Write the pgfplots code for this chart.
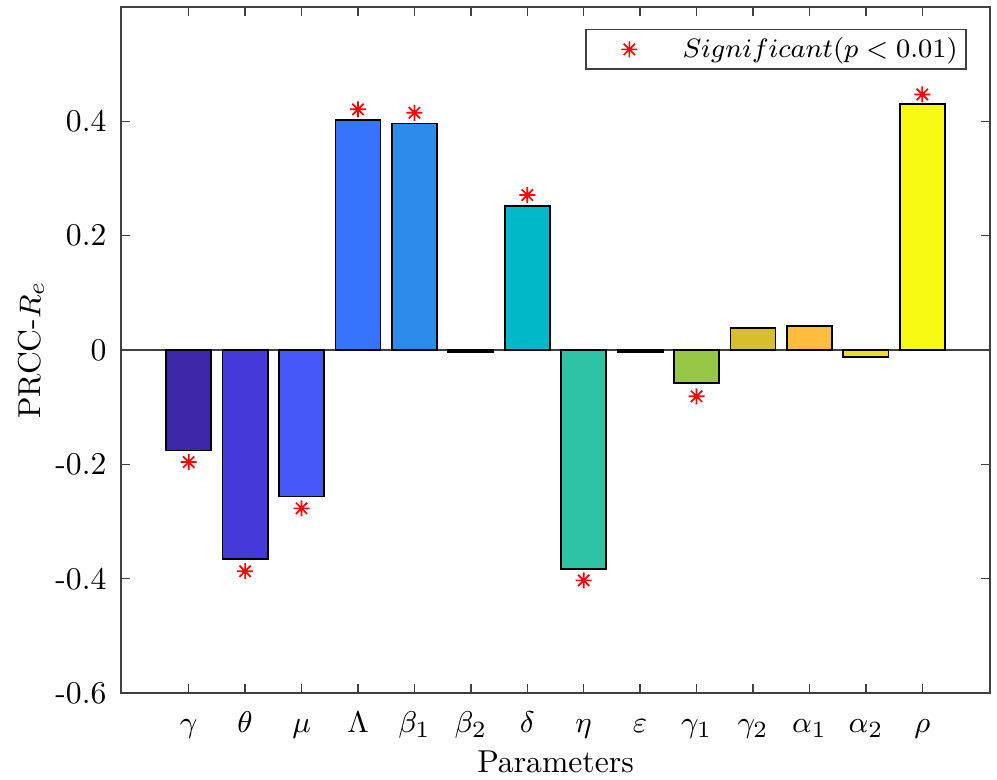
\documentclass[border=0pt]{standalone}
\usepackage{pgfplots}
\pgfplotsset{compat=1.18}
\definecolor{c1}{RGB}{62,38,168}
\definecolor{c2}{RGB}{68,58,218}
\definecolor{c3}{RGB}{70,88,245}
\definecolor{c4}{RGB}{55,115,252}
\definecolor{c5}{RGB}{45,140,235}
\definecolor{c6}{RGB}{25,165,220}
\definecolor{c7}{RGB}{0,185,200}
\definecolor{c8}{RGB}{45,195,165}
\definecolor{c9}{RGB}{100,200,110}
\definecolor{c10}{RGB}{150,200,70}
\definecolor{c11}{RGB}{215,190,45}
\definecolor{c12}{RGB}{252,190,60}
\definecolor{c13}{RGB}{240,220,40}
\definecolor{c14}{RGB}{249,250,20}
\definecolor{axc}{RGB}{64,64,64}
\pgfdeclareplotmark{mstar}{%
  \pgfpathmoveto{\pgfqpoint{0pt}{\pgfplotmarksize}}\pgfpathlineto{\pgfqpoint{0pt}{-\pgfplotmarksize}}%
  \pgfpathmoveto{\pgfqpoint{\pgfplotmarksize}{0pt}}\pgfpathlineto{\pgfqpoint{-\pgfplotmarksize}{0pt}}%
  \pgfpathmoveto{\pgfqpoint{0.707\pgfplotmarksize}{0.707\pgfplotmarksize}}\pgfpathlineto{\pgfqpoint{-0.707\pgfplotmarksize}{-0.707\pgfplotmarksize}}%
  \pgfpathmoveto{\pgfqpoint{-0.707\pgfplotmarksize}{0.707\pgfplotmarksize}}\pgfpathlineto{\pgfqpoint{0.707\pgfplotmarksize}{-0.707\pgfplotmarksize}}%
  \pgfusepathqstroke}
\pgfplotsset{mybar/.style={ybar, bar width=0.8, bar shift=0pt, draw=black, line width=0.5pt, forget plot}}
\begin{document}
\fontsize{9.5}{11.5}\selectfont
\begin{tikzpicture}
\begin{axis}[
  scale only axis,
  width=260.7pt, height=205.8pt,
  xmin=-0.2, xmax=15.2,
  ymin=-0.6, ymax=0.6,
  axis line style={axc, line width=0.45pt},
  every tick/.style={axc, line width=0.45pt},
  tick align=inside,
  major tick length=2.7pt,
  xtick={1,...,14},
  xticklabels={$\gamma$,$\theta$,$\mu$,$\Lambda$,$\beta_1$,$\beta_2$,$\delta$,$\eta$,$\varepsilon$,$\gamma_1$,$\gamma_2$,$\alpha_1$,$\alpha_2$,$\rho$},
  xticklabel style={anchor=base, yshift=-12pt},
  ytick={-0.6,-0.4,-0.2,0,0.2,0.4},
  yticklabels={-0.6,-0.4,-0.2,0,0.2,0.4},
  yticklabel style={anchor=east, xshift=-1pt},
  xlabel={Parameters},
  ylabel={PRCC-$R_e$},
  xlabel style={at={(axis description cs:0.5,-0.1006)}, anchor=center},
  ylabel style={at={(axis description cs:-0.1036,0.5)}, anchor=center, rotate=0},
  legend style={at={(axis description cs:0.9735,0.968)}, anchor=north east,
    draw=axc, line width=0.45pt, inner xsep=1pt, inner ysep=0.6pt,
    font=\fontsize{8.3}{9.8}\selectfont, nodes={inner sep=1.6pt}},
  legend cell align=left,
  legend image code/.code={\path (0pt,0pt) (25.8pt,0pt); \draw[red, line width=0.5pt] plot[mark=mstar, mark size=2.4pt, only marks] coordinates {(11.7pt,0pt)};},
  clip=false,
]
\draw[axc, line width=0.4pt] (axis cs:-0.2,0) -- (axis cs:15.2,0);
\addplot[mybar, fill=c1] coordinates {(1,-0.176)};
\addplot[mybar, fill=c2] coordinates {(2,-0.366)};
\addplot[mybar, fill=c3] coordinates {(3,-0.256)};
\addplot[mybar, fill=c4] coordinates {(4,0.402)};
\addplot[mybar, fill=c5] coordinates {(5,0.396)};
\addplot[mybar, fill=c6] coordinates {(6,-0.004)};
\addplot[mybar, fill=c7] coordinates {(7,0.252)};
\addplot[mybar, fill=c8] coordinates {(8,-0.383)};
\addplot[mybar, fill=c9] coordinates {(9,-0.004)};
\addplot[mybar, fill=c10] coordinates {(10,-0.058)};
\addplot[mybar, fill=c11] coordinates {(11,0.038)};
\addplot[mybar, fill=c12] coordinates {(12,0.042)};
\addplot[mybar, fill=c13] coordinates {(13,-0.012)};
\addplot[mybar, fill=c14] coordinates {(14,0.430)};
\addplot[only marks, mark=mstar, mark size=2.4pt, red, line width=0.5pt] coordinates {
  (1,-0.196) (2,-0.387) (3,-0.277) (4,0.421) (5,0.415) (7,0.271) (8,-0.403) (10,-0.081) (14,0.447)};
\addlegendentry{$Significant(p<0.01)$}
\end{axis}
\pgfresetboundingbox
\useasboundingbox ([xshift=-36.3pt, yshift=-26.1pt]current axis.south west) rectangle ([xshift=2.1pt, yshift=2.1pt]current axis.north east);
\end{tikzpicture}
\end{document}
